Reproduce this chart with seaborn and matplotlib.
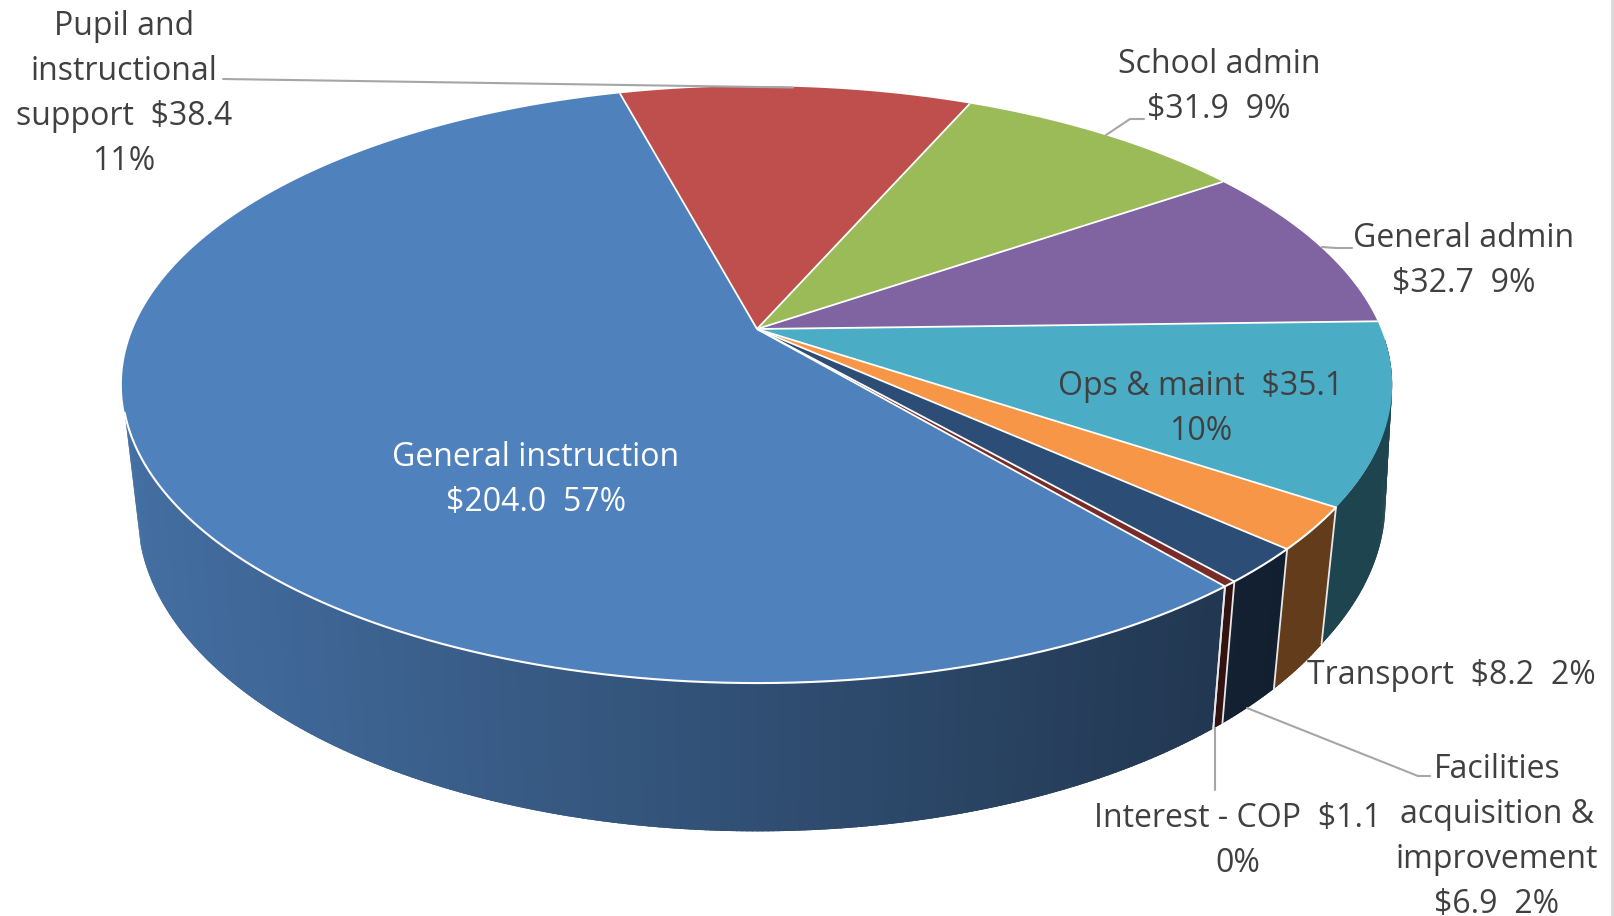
import numpy as np
import seaborn as sns
import matplotlib.pyplot as plt

# values in $ millions, clockwise from the big slice
categories = ['General instruction', 'Pupil and instructional support', 'School admin',
              'General admin', 'Ops & maint', 'Transport',
              'Facilities acquisition & improvement', 'Interest - COP']
values = [204.0, 38.4, 31.9, 32.7, 35.1, 8.2, 6.9, 1.1]
percents = ['57%', '11%', '9%', '9%', '10%', '2%', '2%', '0%']
colors = ['#4f81bd', '#be4f4c', '#9bbb59', '#8064a2', '#4bacc6', '#f79646', '#2c4d75', '#772c2a']

sns.set_theme(style='white')
plt.rcParams['font.family'] = ['Open Sans', 'DejaVu Sans']
palette = sns.color_palette(colors)

# pie geometry, in picture pixels
CX, CY = 757, 329
RX, RY = 624, 288
PERSP = 0.1866
START = 310.0
WALL_A, WALL_B, WALL_SX = 1.064, 125.6, 0.975
WALL_BULGE = 11


def top_pts(deg):
    t = np.radians(deg)
    s = 1 / (1 + PERSP * np.sin(t))
    return CX + RX * np.cos(t) * s, CY - RY * np.sin(t) * s


def bottom_pts(deg):
    x, y = top_pts(deg)
    # right end of the wall bulges out a bit in the original
    bulge = WALL_BULGE * np.clip((deg - 327) / 28, 0, 1)
    return CX + (x - CX) * WALL_SX + bulge, CY + (y - CY) * WALL_A + WALL_B


def shade(col, x):
    f = np.interp(x, [140, 1300], [0.85, 0.40])
    return tuple(c * f for c in col)


fig = plt.figure(figsize=(16.14, 9.16), dpi=100)
ax = fig.add_axes([0, 0, 1, 1])
ax.set_xlim(0, 1614)
ax.set_ylim(916, 0)
ax.axis('off')

edges = START - np.cumsum([0] + values) / sum(values) * 360

# side wall, split in thin strips to get the gradient
WALL_FROM, WALL_TO = 196.0, 358.0
pieces = []
for i, col in enumerate(palette):
    hi, lo = edges[i], edges[i + 1]
    for lo2, hi2 in [(lo, hi), (lo - 360, hi - 360), (lo + 360, hi + 360)]:
        a0, a1 = max(lo2, WALL_FROM), min(hi2, WALL_TO)
        if a1 > a0:
            pieces.append((a0, a1, col))

# left to right, each strip overlaps the next so no seams show
for a0, a1, col in sorted(pieces, key=lambda p: p[0]):
    n = max(int((a1 - a0) / 0.4), 1)
    steps = np.linspace(a0, a1, n + 1)
    for s0, s1 in zip(steps[:-1], steps[1:]):
        s2 = min(s1 + 0.5, WALL_TO)
        xt0, yt0 = top_pts(s0)
        xt1, yt1 = top_pts(s2)
        xb0, yb0 = bottom_pts(s0)
        xb1, yb1 = bottom_pts(s2)
        c = shade(col, (xt0 + xt1) / 2)
        ax.fill([xt0, xt1, xb1, xb0], [yt0, yt1, yb1, yb0], color=c, lw=0, zorder=2)

# white lines between the wall pieces
for e in edges:
    d = e % 360
    if WALL_FROM < d < WALL_TO:
        xt, yt = top_pts(d)
        xb, yb = bottom_pts(d)
        ax.plot([xt, xb], [yt, yb], color='#e8e8e8', lw=1.3, zorder=3)

# top face
for i, col in enumerate(palette):
    ang = np.linspace(edges[i], edges[i + 1], 200)
    x, y = top_pts(ang)
    ax.fill(np.r_[CX, x], np.r_[CY, y], color=col, lw=0, zorder=4)

# white spokes + front rim, rim stops where the teal slice starts
for e in edges[:-1]:
    x, y = top_pts(e)
    ax.plot([CX, x], [CY, y], color='white', lw=1.3, zorder=5, solid_capstyle='butt')
rim = np.linspace(WALL_FROM, edges[5] % 360, 400)
x, y = top_pts(rim)
ax.plot(x, y, color='white', lw=1.5, zorder=5)

# leader lines
leaders = [([223, 793], [79, 87.5]),
           ([1106, 1130, 1144], [135, 119, 119]),
           ([1322, 1336, 1352], [247, 248, 248]),
           ([1247, 1418, 1430], [708, 776, 776]),
           ([1215, 1215], [728, 790])]
for lx, ly in leaders:
    ax.plot(lx, ly, color='#a6a6a6', lw=1.5, zorder=6)

# data labels
def money(i):
    return '$%.1f' % values[i]


TXT = '#404040'
FS = 23
kw = dict(ha='center', va='center', fontsize=FS, linespacing=1.49, color=TXT, zorder=7)
ax.text(536, 480, '%s\n%s  %s' % (categories[0], money(0), percents[0]), **{**kw, 'color': 'white'})
ax.text(124, 94, 'Pupil and\ninstructional\nsupport  %s\n%s' % (money(1), percents[1]), **kw)
ax.text(1219, 87, '%s\n%s  %s' % (categories[2], money(2), percents[2]), **kw)
ax.text(1464, 261, '%s\n%s  %s' % (categories[3], money(3), percents[3]), **kw)
ax.text(1201, 409, '%s  %s\n%s' % (categories[4], money(4), percents[4]), **kw)
ax.text(1451, 676, '%s  %s  %s' % (categories[5], money(5), percents[5]), **kw)
ax.text(1497, 837, 'Facilities\nacquisition &\nimprovement\n%s  %s' % (money(6), percents[6]), **kw)
ax.text(1238, 841, '%s  %s\n%s' % (categories[7], money(7), percents[7]), **kw)

# frame edge on the right of the screenshot
ax.plot([1612, 1612], [0, 916], color='#d9d9d9', lw=2, zorder=1)

fig.savefig('out.png', dpi=100)
